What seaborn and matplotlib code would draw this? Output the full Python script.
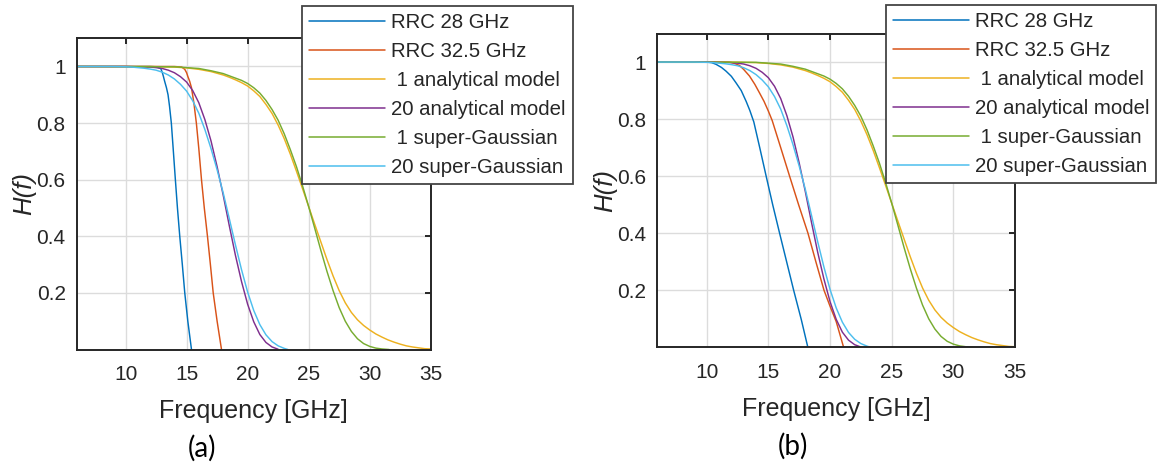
import numpy as np
import pandas as pd
import matplotlib
matplotlib.use("Agg")
import matplotlib.pyplot as plt
import seaborn as sns

# ---------------------------------------------------------------------------
# Values (frequency in GHz, H(f) normalised)
# ---------------------------------------------------------------------------
labels = ["RRC 28 GHz", "RRC 32.5 GHz", " 1 analytical model",
          "20 analytical model", " 1 super-Gaussian", "20 super-Gaussian"]
colors = ["#0072BD", "#D95319", "#EDB120", "#7E2F8E", "#77AC30", "#4DBEEE"]

# model curves (same in both panels)
f_an1 = [6, 12, 14, 15, 16, 17, 18, 18.5, 19, 19.5, 20, 20.5, 21, 21.5, 22, 22.5,
         23, 23.5, 24, 24.5, 25, 25.5, 26, 26.5, 27, 27.5, 28, 28.5, 29, 29.5,
         30, 30.5, 31, 31.5, 32, 32.5, 33, 33.5, 34, 34.5, 35]
h_an1 = [1, 1, 0.998, 0.995, 0.99, 0.982, 0.97, 0.962, 0.953, 0.943, 0.931,
         0.914, 0.894, 0.866, 0.834, 0.793, 0.745, 0.69, 0.63, 0.568, 0.505,
         0.442, 0.38, 0.318, 0.26, 0.208, 0.165, 0.131, 0.105, 0.085, 0.069,
         0.055, 0.044, 0.034, 0.026, 0.019, 0.013, 0.009, 0.006, 0.003, 0.002]

f_sg1 = [6, 14, 16, 17, 18, 19, 19.5, 20, 20.5, 21, 21.5, 22, 22.5, 23, 23.5,
         24, 24.5, 25, 25.5, 26, 26.5, 27, 27.5, 28, 28.5, 29, 29.5, 30, 30.5,
         31, 31.6]
h_sg1 = [1, 0.999, 0.993, 0.985, 0.975, 0.959, 0.951, 0.94, 0.925, 0.906, 0.88,
         0.848, 0.81, 0.762, 0.706, 0.646, 0.578, 0.505, 0.428, 0.35, 0.276,
         0.208, 0.148, 0.1, 0.064, 0.038, 0.021, 0.011, 0.005, 0.002, 0]

f_an20 = [6, 10, 11, 12, 12.5, 13, 13.5, 14, 14.5, 15, 15.5, 16, 16.5, 17, 17.5,
          18, 18.5, 19, 19.5, 20, 20.5, 21, 21.5, 22, 22.5]
h_an20 = [1, 1, 0.999, 0.998, 0.996, 0.993, 0.987, 0.978, 0.964, 0.945, 0.915,
          0.872, 0.812, 0.737, 0.646, 0.545, 0.437, 0.333, 0.24, 0.16, 0.098,
          0.053, 0.025, 0.009, 0.001]

f_sg20 = [6, 9, 10, 10.5, 11, 11.5, 12, 12.5, 13, 13.5, 14, 14.5, 15, 15.5, 16,
          16.5, 17, 17.5, 18, 18.5, 19, 19.5, 20, 20.5, 21, 21.5, 22, 22.5, 23,
          23.3]
h_sg20 = [1, 1, 0.999, 0.998, 0.996, 0.994, 0.991, 0.987, 0.98, 0.97, 0.956,
          0.937, 0.913, 0.879, 0.835, 0.777, 0.71, 0.635, 0.553, 0.462, 0.37,
          0.282, 0.203, 0.138, 0.088, 0.052, 0.028, 0.013, 0.004, 0]

# RRC curves, panel (a)
f_rrc28_a = [6, 12, 12.5, 12.88, 13.0, 13.1, 13.2, 13.35, 13.48, 13.6, 13.75,
             13.9, 14.08, 14.25, 14.44, 14.65, 14.85, 15.1, 15.4]
h_rrc28_a = [1, 1, 0.999, 0.993, 0.98, 0.965, 0.948, 0.925, 0.9, 0.86, 0.8,
             0.71, 0.6, 0.5, 0.4, 0.3, 0.2, 0.1, 0]
f_rrc32_a = [6, 14, 14.6, 14.85, 15.0, 15.1, 15.25, 15.4, 15.6, 15.8, 16.0,
             16.22, 16.45, 16.71, 16.95, 17.18, 17.5, 17.86]
h_rrc32_a = [1, 1, 0.998, 0.99, 0.978, 0.965, 0.948, 0.925, 0.87, 0.8, 0.71,
             0.6, 0.5, 0.4, 0.3, 0.2, 0.1, 0]

# RRC curves, panel (b)
f_rrc28_b = [6, 10, 10.4, 10.76, 11.2, 11.57, 12.0, 12.38, 12.8, 13.2, 13.5,
             13.82, 14.3, 14.82, 15.35, 15.91, 16.48, 17.05, 17.67, 18.2]
h_rrc28_b = [1, 1, 0.998, 0.992, 0.981, 0.968, 0.95, 0.927, 0.9, 0.862, 0.83,
             0.79, 0.7, 0.6, 0.5, 0.4, 0.3, 0.2, 0.097, 0]
f_rrc32_b = [6, 11.8, 12.2, 12.66, 13.0, 13.47, 13.9, 14.28, 14.65, 15.0, 15.31,
             16.0, 16.72, 17.45, 18.21, 18.85, 19.51, 20.0, 20.5, 21.1]
h_rrc32_b = [1, 1, 0.996, 0.988, 0.974, 0.951, 0.922, 0.892, 0.862, 0.828,
             0.795, 0.7, 0.6, 0.5, 0.4, 0.3, 0.2, 0.144, 0.09, 0]

x_ticks = [10, 15, 20, 25, 30, 35]
y_ticks = [0.2, 0.4, 0.6, 0.8, 1]
y_ticklabels = ["0.2", "0.4", "0.6", "0.8", "1"]


def make_df(curves):
    rows = []
    for lab, (f, h) in zip(labels, curves):
        rows.append(pd.DataFrame({"f": f, "H": h, "curve": lab}))
    return pd.concat(rows, ignore_index=True)


df_a = make_df([(f_rrc28_a, h_rrc28_a), (f_rrc32_a, h_rrc32_a), (f_an1, h_an1),
                (f_an20, h_an20), (f_sg1, h_sg1), (f_sg20, h_sg20)])
df_b = make_df([(f_rrc28_b, h_rrc28_b), (f_rrc32_b, h_rrc32_b), (f_an1, h_an1),
                (f_an20, h_an20), (f_sg1, h_sg1), (f_sg20, h_sg20)])

sns.set_style("white")
plt.rcParams["font.family"] = ["Liberation Sans", "DejaVu Sans"]

fig = plt.figure(figsize=(11.61, 4.63), dpi=100)
ax_a = fig.add_axes([0.0661, 0.2451, 0.3049, 0.6724])
ax_b = fig.add_axes([0.5662, 0.2499, 0.3081, 0.6777])

dark = "#262626"
legend_pos = {ax_a: (0.2604, 0.987), ax_b: (0.7631, 0.9898)}
panel_txt = {ax_a: (0.174, 0.032, "(a)"), ax_b: (0.683, 0.036, "(b)")}

for ax, df in [(ax_a, df_a), (ax_b, df_b)]:
    sns.lineplot(data=df, x="f", y="H", hue="curve", hue_order=labels,
                 palette=colors, estimator=None, sort=False, linewidth=1.05, ax=ax)
    ax.set_xlim(6, 35)
    ax.set_ylim(0, 1.1)
    ax.set_xticks(x_ticks)
    ax.set_yticks(y_ticks)
    ax.set_yticklabels(y_ticklabels)
    ax.grid(True, color="#dcdcdc", linewidth=1.0)
    ax.set_axisbelow(True)
    for sp in ax.spines.values():
        sp.set_color(dark)
        sp.set_linewidth(1.4)
    ax.tick_params(direction="in", top=True, right=True, length=4, width=1.4,
                   colors=dark, labelsize=15)
    ax.tick_params(axis="x", pad=11)
    ax.tick_params(axis="y", pad=8)
    ax.set_xlabel("Frequency [GHz]", fontsize=18, color=dark, labelpad=11)
    ax.set_ylabel("H(f)", fontsize=18.5, color=dark, style="italic", labelpad=0)

    handles, labs = ax.get_legend_handles_labels()
    leg = ax.legend(handles, labs, loc="upper left", bbox_to_anchor=legend_pos[ax],
                    bbox_transform=fig.transFigure, fontsize=14.7, frameon=True,
                    fancybox=False, framealpha=1, edgecolor="#444444",
                    handlelength=3.7, handletextpad=0.3, labelspacing=0.49,
                    borderpad=0.35, borderaxespad=0)
    leg.get_frame().set_linewidth(1.3)
    for line in leg.get_lines():
        line.set_linewidth(1.1)

    x, y, s = panel_txt[ax]
    fig.text(x, y, s, fontsize=20, family=["Lato", "DejaVu Sans"], color="black",
             ha="center", va="center")

fig.savefig("out.png", dpi=100)
